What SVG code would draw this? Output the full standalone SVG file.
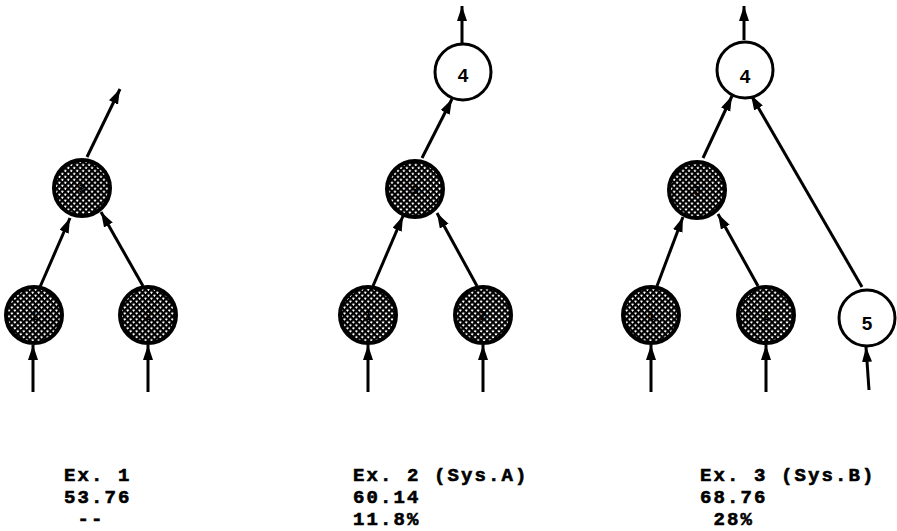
<svg xmlns="http://www.w3.org/2000/svg" width="897" height="531" viewBox="0 0 897 531">
  <defs>
    <!-- dense diagonal cross-hatch used for the shaded nodes -->
    <pattern id="hatch" width="4.2" height="4.2" patternUnits="userSpaceOnUse" patternTransform="rotate(45)">
      <rect width="4.2" height="4.2" fill="#fff"/>
      <rect x="0" y="0" width="4.2" height="2.2" fill="#000"/>
      <rect x="0" y="0" width="2.2" height="4.2" fill="#000"/>
    </pattern>
    <marker id="arrow" markerUnits="userSpaceOnUse" markerWidth="16" markerHeight="11" refX="15" refY="5" orient="auto">
      <path d="M0,0 L15,5 L0,10 Z" fill="#000"/>
    </marker>
  </defs>
  <style>
    .shaded { fill: url(#hatch); stroke: #000; stroke-width: 4; }
    .open { fill: #fff; stroke: #000; stroke-width: 3; }
    .edge { stroke: #000; stroke-width: 3; fill: none; marker-end: url(#arrow); }
    .nlabel { font-family: "Liberation Sans", Arial, sans-serif; font-weight: bold; font-size: 19px; text-anchor: middle; fill: #000; }
    .hlabel { font-family: "Liberation Sans", Arial, sans-serif; font-weight: bold; font-size: 13px; text-anchor: middle; fill: #000; }
    .caption { font-family: "Liberation Mono", "Courier New", monospace; font-weight: bold; font-size: 19px; letter-spacing: 2.1px; fill: #000; stroke: #000; stroke-width: 0.6; white-space: pre; }
  </style>
  <rect width="897" height="531" fill="#fff"/>

  <!-- connectors -->
  <g id="connectors">
    <!-- example 1 -->
    <line class="edge" x1="33" y1="392" x2="33" y2="345"/>
    <line class="edge" x1="148" y1="392" x2="148" y2="345"/>
    <line class="edge" x1="40" y1="287" x2="70" y2="218"/>
    <line class="edge" x1="143" y1="286" x2="101" y2="212"/>
    <line class="edge" x1="87" y1="157" x2="120" y2="89"/>
    <!-- example 2 -->
    <line class="edge" x1="368" y1="392" x2="368" y2="345"/>
    <line class="edge" x1="483" y1="392" x2="483" y2="345"/>
    <line class="edge" x1="373" y1="286" x2="403" y2="216"/>
    <line class="edge" x1="477" y1="286" x2="437" y2="213"/>
    <line class="edge" x1="422" y1="158" x2="452" y2="99"/>
    <line class="edge" x1="462" y1="43" x2="462" y2="6"/>
    <!-- example 3 -->
    <line class="edge" x1="651" y1="392" x2="651" y2="345"/>
    <line class="edge" x1="766" y1="392" x2="766" y2="345"/>
    <line class="edge" x1="869" y1="390" x2="866" y2="347"/>
    <line class="edge" x1="657" y1="286" x2="683" y2="217"/>
    <line class="edge" x1="758" y1="286" x2="718" y2="214"/>
    <line class="edge" x1="703" y1="158" x2="732" y2="96"/>
    <line class="edge" x1="862" y1="287" x2="751" y2="95"/>
    <line class="edge" x1="744" y1="40" x2="744" y2="6"/>
  </g>

  <!-- example 1 nodes -->
  <g id="ex1-n1"><circle class="shaded" cx="34" cy="315" r="28"/><text class="hlabel" x="34" y="320">1</text></g>
  <g id="ex1-n2"><circle class="shaded" cx="148" cy="315" r="28"/><text class="hlabel" x="148" y="320">2</text></g>
  <g id="ex1-n3"><circle class="shaded" cx="82" cy="188" r="28"/><text class="hlabel" x="82" y="193">3</text></g>

  <!-- example 2 nodes -->
  <g id="ex2-n1"><circle class="shaded" cx="368" cy="315" r="28"/><text class="hlabel" x="368" y="320">1</text></g>
  <g id="ex2-n2"><circle class="shaded" cx="483" cy="315" r="28"/><text class="hlabel" x="483" y="320">2</text></g>
  <g id="ex2-n3"><circle class="shaded" cx="415" cy="189" r="28"/><text class="hlabel" x="415" y="194">3</text></g>
  <g id="ex2-n4"><circle class="open" cx="463" cy="72" r="28"/><text class="nlabel" x="463" y="82">4</text></g>

  <!-- example 3 nodes -->
  <g id="ex3-n1"><circle class="shaded" cx="651" cy="315" r="28"/><text class="hlabel" x="651" y="320">1</text></g>
  <g id="ex3-n2"><circle class="shaded" cx="766" cy="315" r="28"/><text class="hlabel" x="766" y="320">2</text></g>
  <g id="ex3-n3"><circle class="shaded" cx="697" cy="190" r="28"/><text class="hlabel" x="697" y="195">3</text></g>
  <g id="ex3-n4"><circle class="open" cx="745" cy="70" r="28"/><text class="nlabel" x="745" y="83">4</text></g>
  <g id="ex3-n5"><circle class="open" cx="867" cy="318" r="28"/><text class="nlabel" x="867" y="330">5</text></g>

  <!-- captions -->
  <g id="captions">
    <text class="caption" x="64" y="481">Ex. 1</text>
    <text class="caption" x="64" y="503">53.76</text>
    <text class="caption" x="64" y="525"> --</text>
    <text class="caption" x="353" y="481">Ex. 2 (Sys.A)</text>
    <text class="caption" x="353" y="503">60.14</text>
    <text class="caption" x="353" y="525">11.8%</text>
    <text class="caption" x="700" y="481">Ex. 3 (Sys.B)</text>
    <text class="caption" x="700" y="503">68.76</text>
    <text class="caption" x="700" y="525"> 28%</text>
  </g>
</svg>
